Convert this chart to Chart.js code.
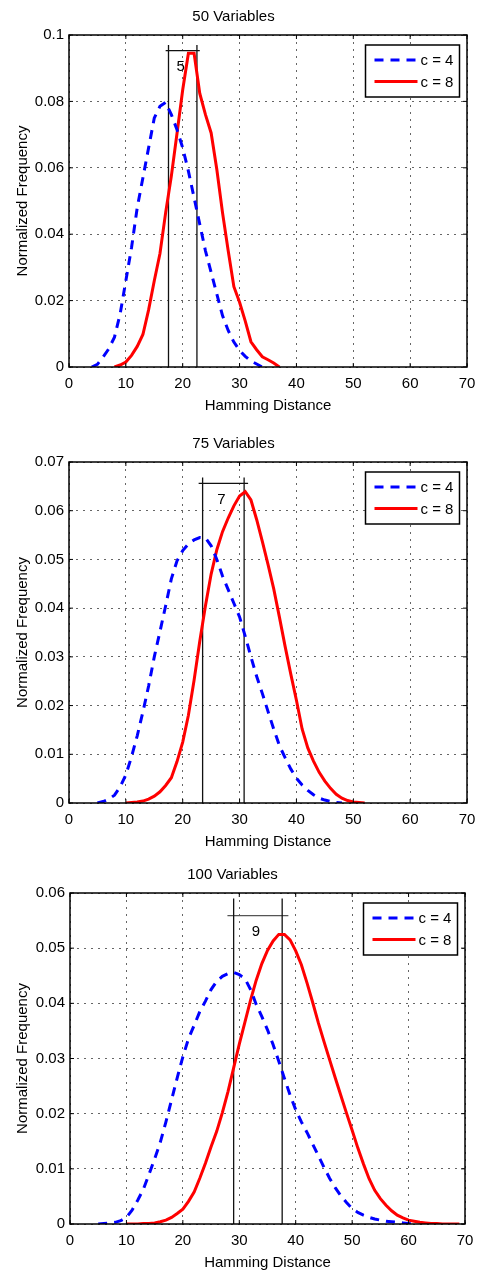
<!DOCTYPE html>
<html>
<head>
<meta charset="utf-8">
<title>Hamming distance distributions</title>
<script src="https://cdn.jsdelivr.net/npm/chart.js@4.4.1/dist/chart.umd.min.js"></script>
<style>
  html, body { margin: 0; padding: 0; background: #fff; overflow: hidden; }
  body { width: 478px; height: 1273px; position: relative; }
  canvas { position: absolute; left: 0; }
</style>
</head>
<body>
<canvas id="chart50" width="478" height="417" style="top:0px"></canvas>
<canvas id="chart75" width="478" height="426" style="top:427px"></canvas>
<canvas id="chart100" width="478" height="416" style="top:858px"></canvas>
<script>
// x axis ticks shared by the three panels
const xTicks = [0, 10, 20, 30, 40, 50, 60, 70]

// 50 variables
const dist50c4 = [4, 5, 6, 7, 8, 9, 10, 11, 12, 13, 14, 15, 16, 17, 18, 19, 20, 21, 22, 23, 24, 25, 26, 27, 28, 29, 30, 31, 32, 33, 34]
const freq50c4 = [0, 0.0008, 0.003, 0.0055, 0.009, 0.016, 0.026, 0.036, 0.048, 0.057, 0.066, 0.075, 0.0785, 0.0797, 0.076, 0.0715,
    0.066, 0.059, 0.051, 0.043, 0.035, 0.0285, 0.022, 0.0155, 0.011, 0.0075, 0.005, 0.0032, 0.0018, 0.0009, 0]
const dist50c8 = [8, 9, 10, 11, 12, 13, 14, 15, 16, 17, 18, 19, 20, 21, 22, 23, 24, 25, 26, 27, 28, 29, 30, 31, 32, 33, 34, 35, 36, 37]
const freq50c8 = [0, 0.0006, 0.0015, 0.0035, 0.0062, 0.0098, 0.0172, 0.026, 0.0342, 0.0465, 0.0575, 0.0704, 0.0835, 0.0945, 0.0945,
    0.0824, 0.076, 0.0705, 0.0595, 0.0465, 0.035, 0.0242, 0.0195, 0.0138, 0.0076, 0.0052, 0.0031, 0.0022, 0.0012, 0]
const yTicks50 = [0, 0.02, 0.04, 0.06, 0.08, 0.1]
const means50 = [17.5, 22.5]

// 75 variables
const dist75c4 = [5, 6, 7, 8, 9, 10, 11, 12, 13, 14, 15, 16, 17, 18, 19, 20, 21, 22, 23, 24, 25, 26, 27, 28, 29, 30, 31, 32, 33, 34,
    35, 36, 37, 38, 39, 40, 41, 42, 43, 44, 45, 46, 47, 48]
const freq75c4 = [0, 0.0003, 0.0008, 0.0016, 0.0033, 0.0058, 0.0095, 0.0138, 0.0187, 0.024,
    0.030, 0.0352, 0.0405, 0.046, 0.0497, 0.0518, 0.0532, 0.054, 0.0545, 0.0544,
    0.0528, 0.050, 0.0466, 0.0438, 0.041, 0.0382, 0.0342, 0.030, 0.026, 0.0225,
    0.0188, 0.0152, 0.0118, 0.0093, 0.007, 0.0051, 0.0037, 0.0026, 0.0017, 0.001,
    0.0006, 0.0003, 0.0001, 0]
const dist75c8 = [10, 11, 12, 13, 14, 15, 16, 17, 18, 19, 20, 21, 22, 23, 24, 25, 26, 27, 28, 29, 30, 31, 32, 33, 34, 35, 36, 37, 38,
    39, 40, 41, 42, 43, 44, 45, 46, 47, 48, 49, 50, 51, 52]
const freq75c8 = [0, 0.0001, 0.0002, 0.0004, 0.0008, 0.0014, 0.0023, 0.0036, 0.0052, 0.0085,
    0.0125, 0.018, 0.0252, 0.0332, 0.0405, 0.047, 0.052, 0.0557, 0.0585, 0.061,
    0.063, 0.0639, 0.0622, 0.0582, 0.0537, 0.049, 0.044, 0.0382, 0.0322, 0.0265,
    0.0211, 0.0152, 0.0113, 0.0086, 0.0063, 0.0045, 0.003, 0.0018, 0.001, 0.0005,
    0.0002, 0.0001, 0]
const yTicks75 = [0, 0.01, 0.02, 0.03, 0.04, 0.05, 0.06, 0.07]
const means75 = [23.5, 30.8]

// 100 variables
const dist100c4 = [5, 6, 7, 8, 9, 10, 11, 12, 13, 14, 15, 16, 17, 18, 19, 20, 21, 22, 23, 24, 25, 26, 27, 28, 29, 30, 31, 32, 33,
    34, 35, 36, 37, 38, 39, 40, 41, 42, 43, 44, 45, 46, 47, 48, 49, 50, 51, 52, 53, 54, 55, 56, 57, 58, 59, 60, 61]
const freq100c4 = [0, 0.0001, 0.0002, 0.0003, 0.0006, 0.0012, 0.0025, 0.0043, 0.0063, 0.009,
    0.0118, 0.0148, 0.0185, 0.0225, 0.0265, 0.0303, 0.0336, 0.036, 0.0385, 0.0404,
    0.0425, 0.044, 0.0449, 0.0454, 0.0456, 0.0452, 0.0445, 0.0425, 0.0398, 0.0376,
    0.0352, 0.0325, 0.0295, 0.0264, 0.0234, 0.0207, 0.0185, 0.0166, 0.0145, 0.0124,
    0.0103, 0.0083, 0.0066, 0.0051, 0.0039, 0.0028, 0.0021, 0.0016, 0.0012, 0.0009,
    0.0007, 0.0005, 0.0004, 0.0003, 0.0002, 0.0001, 0]
const dist100c8 = [10, 11, 12, 13, 14, 15, 16, 17, 18, 19, 20, 21, 22, 23, 24, 25, 26, 27, 28, 29, 30, 31, 32, 33, 34, 35, 36, 37,
    38, 39, 40, 41, 42, 43, 44, 45, 46, 47, 48, 49, 50, 51, 52, 53, 54, 55, 56, 57, 58, 59, 60, 61, 62, 63, 64, 65, 66, 67, 68, 69]
const freq100c8 = [0, 0, 0, 0.0001, 0.0001, 0.0002, 0.0004, 0.0007, 0.0012, 0.0019,
    0.0027, 0.0041, 0.0058, 0.0083, 0.011, 0.014, 0.0168, 0.0202, 0.024, 0.0283,
    0.0326, 0.0366, 0.0406, 0.0442, 0.0472, 0.0496, 0.0513, 0.0525, 0.0525, 0.0515,
    0.0495, 0.047, 0.0437, 0.0402, 0.0365, 0.0331, 0.0298, 0.0265, 0.0233, 0.0201,
    0.017, 0.0138, 0.0109, 0.0082, 0.0061, 0.0046, 0.0034, 0.0024, 0.0016, 0.0011,
    0.0007, 0.0005, 0.0003, 0.0002, 0.0001, 0.0001, 0, 0, 0, 0]
const yTicks100 = [0, 0.01, 0.02, 0.03, 0.04, 0.05, 0.06]
const means100 = [29.0, 37.6]

const FONT = "'Liberation Sans', Arial, sans-serif"
Chart.defaults.font.family = FONT
Chart.defaults.font.size = 15
Chart.defaults.color = '#000'

const points = (xs, ys) => xs.map((v, i) => ({ x: v, y: ys[i] }))

// axes box, inward ticks, legend box and the gap label between the two mean lines
const matlabFrame = {
    id: 'matlabFrame',
    afterDatasetsDraw(chart, args, opts) {
        const { ctx, chartArea: a, scales: { x, y } } = chart
        ctx.save()

        ctx.strokeStyle = '#000'
        ctx.lineWidth = 1
        ctx.beginPath()
        x.ticks.forEach(t => {
            const px = x.getPixelForValue(t.value)
            ctx.moveTo(px, a.bottom); ctx.lineTo(px, a.bottom - 4)
            ctx.moveTo(px, a.top); ctx.lineTo(px, a.top + 4)
        })
        y.ticks.forEach(t => {
            const py = y.getPixelForValue(t.value)
            ctx.moveTo(a.left, py); ctx.lineTo(a.left + 4, py)
            ctx.moveTo(a.right, py); ctx.lineTo(a.right - 4, py)
        })
        ctx.stroke()

        ctx.lineWidth = 1.5
        ctx.strokeRect(a.left, a.top, a.right - a.left, a.bottom - a.top)

        // gap label
        const [m1, m2] = opts.means
        ctx.fillStyle = '#000'
        ctx.font = '15px ' + FONT
        ctx.textAlign = 'center'
        ctx.textBaseline = 'middle'
        ctx.fillText(String(Math.round(m2 - m1)), x.getPixelForValue((m1 + m2) / 2) - 2, y.getPixelForValue(opts.barY) + 16)

        // legend
        const right = a.right - 7.5, top = a.top + 10, w = 94, h = 52, left = right - w
        ctx.fillStyle = '#fff'
        ctx.fillRect(left, top, w, h)
        ctx.lineWidth = 1.5
        ctx.strokeStyle = '#000'
        ctx.strokeRect(left, top, w, h)
        chart.data.datasets.slice(0, 2).forEach((ds, i) => {
            const ly = top + 15 + i * 21.5
            ctx.strokeStyle = ds.borderColor
            ctx.lineWidth = ds.borderWidth
            ctx.setLineDash(ds.borderDash || [])
            ctx.beginPath()
            ctx.moveTo(left + 9, ly)
            ctx.lineTo(left + 52, ly)
            ctx.stroke()
            ctx.setLineDash([])
            ctx.fillStyle = '#000'
            ctx.textAlign = 'left'
            ctx.fillText(ds.label, left + 55, ly + 1)
        })
        ctx.restore()
    }
}

function makeChart(id, title, c4, c8, yTicks, means, meanTop, barY, barSpan, barColor, plotLeft, padRight) {
    const [m1, m2] = means
    return new Chart(document.getElementById(id), {
        type: 'line',
        data: {
            datasets: [
                { label: 'c = 4', data: c4, borderColor: '#0000ff', borderWidth: 3, borderDash: [9, 7] },
                { label: 'c = 8', data: c8, borderColor: '#ff0000', borderWidth: 3 },
                { data: [{ x: m1, y: 0 }, { x: m1, y: meanTop }], borderColor: '#111', borderWidth: 1.3 },
                { data: [{ x: m2, y: 0 }, { x: m2, y: meanTop }], borderColor: '#111', borderWidth: 1.3 },
                { data: [{ x: m1 - barSpan, y: barY }, { x: m2 + barSpan, y: barY }], borderColor: barColor, borderWidth: 1.3 }
            ]
        },
        options: {
            responsive: false,
            animation: false,
            events: [],
            elements: { point: { radius: 0 }, line: { tension: 0, fill: false } },
            layout: { padding: { left: 0, right: padRight, top: 0, bottom: 0 } },
            plugins: {
                legend: { display: false },
                tooltip: { enabled: false },
                title: { display: true, text: title, font: { size: 15, weight: 'normal' }, padding: { top: 8, bottom: 9 } },
                matlabFrame: { means, barY }
            },
            scales: {
                x: {
                    type: 'linear', min: 0, max: 70,
                    afterBuildTicks: s => { s.ticks = xTicks.map(v => ({ value: v })) },
                    afterFit: s => { s.height = 50; s.paddingLeft = 0; s.paddingRight = 0 },
                    grid: { color: 'rgba(0,0,0,0.6)', lineWidth: 1, drawTicks: false },
                    border: { display: false, dash: [2, 5] },
                    ticks: { padding: 8, maxRotation: 0 },
                    title: { display: true, text: 'Hamming Distance', padding: 2 }
                },
                y: {
                    min: 0, max: yTicks[yTicks.length - 1],
                    afterBuildTicks: s => { s.ticks = yTicks.map(v => ({ value: v })) },
                    afterFit: s => { s.width = plotLeft; s.paddingTop = 0; s.paddingBottom = 0 },
                    grid: { color: 'rgba(0,0,0,0.6)', lineWidth: 1, drawTicks: false },
                    border: { display: false, dash: [2, 5] },
                    ticks: { padding: 5, callback: v => String(+v.toFixed(4)) },
                    title: { display: true, text: 'Normalized Frequency', padding: 13.5 }
                }
            }
        },
        plugins: [matlabFrame]
    })
}

makeChart('chart50', '50 Variables', points(dist50c4, freq50c4), points(dist50c8, freq50c8),
    yTicks50, means50, 0.097, 0.0953, 0.5, '#111', 69, 11)
makeChart('chart75', '75 Variables', points(dist75c4, freq75c4), points(dist75c8, freq75c8),
    yTicks75, means75, 0.0668, 0.0656, 0.7, '#111', 69, 11)
makeChart('chart100', '100 Variables', points(dist100c4, freq100c4), points(dist100c8, freq100c8),
    yTicks100, means100, 0.059, 0.0559, 1.1, '#555', 70, 13)
</script>
</body>
</html>
